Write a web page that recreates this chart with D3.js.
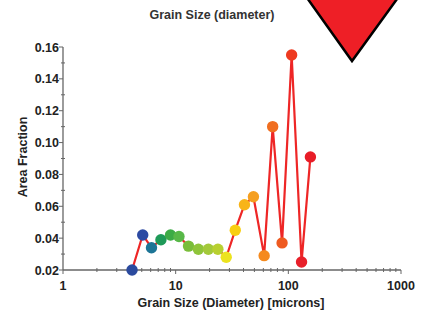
<!DOCTYPE html>
<html>
<head>
<meta charset="utf-8">
<script src="https://cdn.jsdelivr.net/npm/d3@7"></script>
<style>
body{margin:0;background:#fff;}
svg{display:block;font-family:"Liberation Sans",Arial,sans-serif;}
</style>
</head>
<body>
<div id="container"></div>
<script>
// grain size (microns) and area fraction
var sizes=[4.1,5.1,6.1,7.4,9.0,10.7,13.0,15.9,19.5,23.7,28.1,33.8,40.8,49,61,72.6,88,107,131,157];
var fractions=[0.020,0.042,0.034,0.039,0.042,0.041,0.035,0.033,0.033,0.033,0.028,0.045,0.061,0.066,0.029,0.110,0.037,0.155,0.025,0.091];
var pointColors=['#2b4a9e','#2c4aa2','#1d7596','#1e9a58','#3cab45','#58b848','#7abd3a','#8fc43a','#a3c93a','#b8d030','#ece31e','#f8cf12','#f8b418','#f59f20','#f58a1e','#f06e20','#ee5a20','#ee3a20','#e8202a','#e81d27'];
var yTicks=[0.02,0.04,0.06,0.08,0.10,0.12,0.14,0.16];
var xTicks=[1,10,100,1000];

var width=428, height=313;
var svg=d3.select('#container').append('svg')
  .attr('width',width).attr('height',height);

var xScale=d3.scaleLog().domain([1,1000]).range([63,401]);
var yScale=d3.scaleLinear().domain([0.02,0.16]).range([270,47]);

var axisColor='#666';

// y axis
var gy=svg.append('g').attr('transform','translate(63,0)');
gy.append('line').attr('y1',yScale(0.16)).attr('y2',yScale(0.02)).attr('stroke',axisColor).attr('stroke-width',1.3);
var yMinor=d3.range(0.03,0.16,0.02);
gy.selectAll('line.minor').data(yMinor).enter().append('line')
  .attr('class','minor').attr('x1',-2).attr('x2',2)
  .attr('y1',d=>yScale(d)).attr('y2',d=>yScale(d))
  .attr('stroke',axisColor);
gy.selectAll('line.major').data(yTicks).enter().append('line')
  .attr('class','major').attr('x1',-4).attr('x2',0)
  .attr('y1',d=>yScale(d)).attr('y2',d=>yScale(d))
  .attr('stroke',axisColor);
gy.selectAll('text').data(yTicks).enter().append('text')
  .attr('x',-4).attr('y',d=>yScale(d)+4.5)
  .attr('text-anchor','end')
  .style('font-size','12.5px').style('font-weight','bold').attr('fill','#222')
  .text(d=>d.toFixed(2));

// x axis
var gx=svg.append('g').attr('transform','translate(0,'+yScale(0.02)+')');
gx.append('line').attr('x1',xScale(1)).attr('x2',xScale(1000)).attr('stroke',axisColor).attr('stroke-width',1.3);
var xMinor=[];
[1,10,100].forEach(function(dec){for(var k=2;k<10;k++){xMinor.push(dec*k);}});
gx.selectAll('line.minor').data(xMinor).enter().append('line')
  .attr('class','minor').attr('y1',-2).attr('y2',2)
  .attr('x1',d=>xScale(d)).attr('x2',d=>xScale(d))
  .attr('stroke',axisColor);
gx.selectAll('line.major').data(xTicks).enter().append('line')
  .attr('class','major').attr('y1',0).attr('y2',4)
  .attr('x1',d=>xScale(d)).attr('x2',d=>xScale(d))
  .attr('stroke',axisColor);
gx.selectAll('text').data(xTicks).enter().append('text')
  .attr('x',d=>xScale(d)).attr('y',20)
  .attr('text-anchor','middle')
  .style('font-size','12.5px').style('font-weight','bold').attr('fill','#222')
  .text(d=>d);

// data line and points
var data=sizes.map((s,i)=>({x:s,y:fractions[i],c:pointColors[i]}));
var line=d3.line().x(d=>xScale(d.x)).y(d=>yScale(d.y));
svg.append('path').datum(data)
  .attr('d',line).attr('fill','none')
  .attr('stroke','#ee2626').attr('stroke-width',2.2);
svg.selectAll('circle').data(data).enter().append('circle')
  .attr('cx',d=>xScale(d.x)).attr('cy',d=>yScale(d.y))
  .attr('r',5.7).attr('fill',d=>d.c);

// titles
svg.append('text').attr('x',212).attr('y',19).attr('text-anchor','middle')
  .style('font-size','12.5px').style('font-weight','bold').attr('fill','#333')
  .text('Grain Size (diameter)');
svg.append('text').attr('x',231).attr('y',307).attr('text-anchor','middle')
  .style('font-size','12.5px').style('font-weight','bold').attr('fill','#222')
  .text('Grain Size (Diameter) [microns]');
svg.append('text').attr('transform','translate(27,157) rotate(-90)').attr('text-anchor','middle')
  .style('font-size','12.5px').style('font-weight','bold').attr('fill','#222')
  .text('Area Fraction');

// red marker triangle at top right
svg.append('path')
  .attr('d','M300,-12 L405,-12 L352,61 Z')
  .attr('fill','#ee1f26').attr('stroke','#000').attr('stroke-width',2.5)
  .attr('stroke-linejoin','miter');
</script>
</body>
</html>
